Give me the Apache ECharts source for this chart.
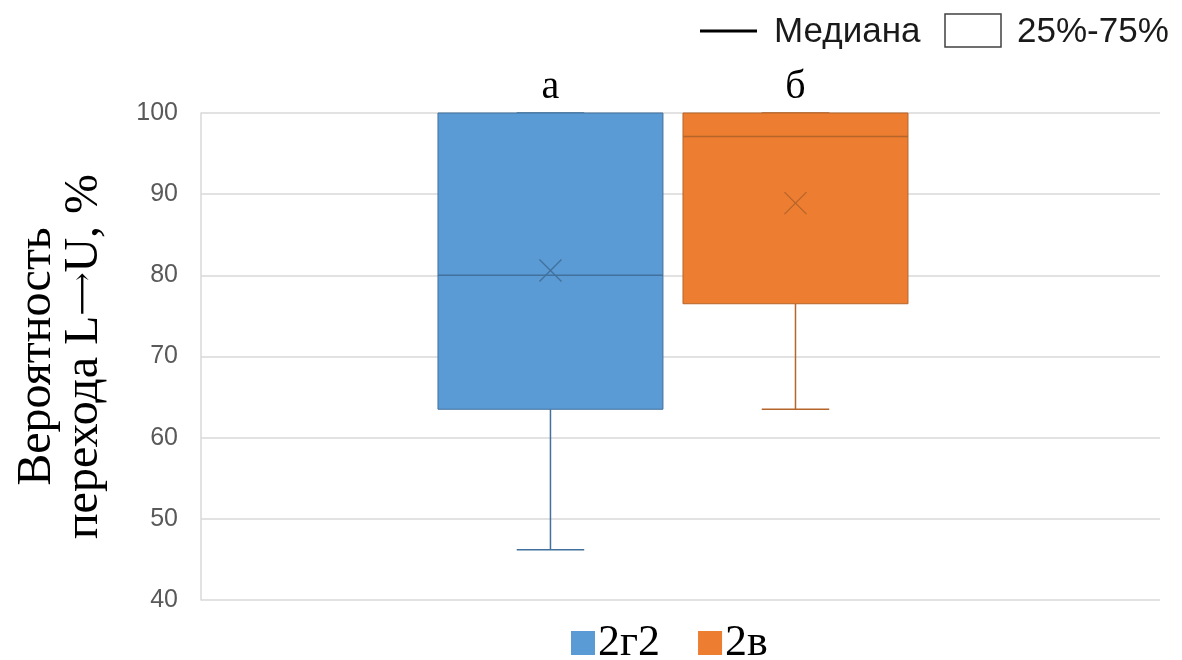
<!DOCTYPE html>
<html>
<head>
<meta charset="utf-8">
<script src="https://cdn.jsdelivr.net/npm/echarts@6/dist/echarts.min.js"></script>
<style>
  html, body { margin: 0; padding: 0; background: #ffffff; }
  #chart { width: 1182px; height: 660px; }
</style>
</head>
<body>
<div id="chart"></div>
<script>
// Box-and-whisker summary for two groups
const categories = [''];
const groupNames = ['2г2', '2в'];
const groupLetters = ['а', 'б'];
const whiskerLow = [46.2, 63.5];
const quartile1 = [63.5, 76.5];
const medians = [80.0, 97.1];
const quartile3 = [100, 100];
const whiskerHigh = [100, 100];
const means = [80.6, 88.9];
const yTicks = [40, 50, 60, 70, 80, 90, 100];

const fills = ['#5B9BD5', '#ED7D31'];
const strokes = ['#41719C', '#B5652A'];
const offsets = [-0.1356, 0.1199];   // box centre, as a share of the band
const boxShare = 0.2346;             // box width, as a share of the band
const serif = '"Liberation Serif", "DejaVu Serif", serif';
const sans = '"Liberation Sans", Arial, sans-serif';

function makeRender(i) {
  return function (params, api) {
    const band = api.size([1, 0])[0];
    const centre = api.coord([0, medians[i]])[0] + offsets[i] * band;
    const half = boxShare * band / 2;
    const capHalf = half * 0.3;
    const y = v => api.coord([0, v])[1];
    const yLo = y(whiskerLow[i]), yQ1 = y(quartile1[i]), yMed = y(medians[i]);
    const yQ3 = y(quartile3[i]), yHi = y(whiskerHigh[i]), yMean = y(means[i]);
    const line = (x1, y1, x2, y2, w) => ({
      type: 'line',
      shape: { x1, y1, x2, y2 },
      style: { stroke: strokes[i], lineWidth: w || 1.5 }
    });
    const m = 11;
    return {
      type: 'group',
      children: [
        line(centre, yQ1, centre, yLo),
        line(centre - capHalf, yLo, centre + capHalf, yLo),
        line(centre, yQ3, centre, yHi),
        line(centre - capHalf, yHi, centre + capHalf, yHi),
        {
          type: 'rect',
          shape: { x: centre - half, y: yQ3, width: 2 * half, height: yQ1 - yQ3 },
          style: { fill: fills[i], stroke: strokes[i], lineWidth: 1 }
        },
        line(centre - half, yMed, centre + half, yMed, 1.5),
        line(centre - m, yMean - m, centre + m, yMean + m, 1.3),
        line(centre - m, yMean + m, centre + m, yMean - m, 1.3),
        {
          type: 'text',
          style: {
            text: groupLetters[i],
            x: centre, y: yHi - 6,
            align: 'center', verticalAlign: 'bottom',
            font: '40px ' + serif, fill: '#000000'
          }
        }
      ]
    };
  };
}

const series = groupNames.map((name, i) => ({
  name: name,
  type: 'custom',
  itemStyle: { color: fills[i] },
  renderItem: makeRender(i),
  encode: { x: 0, y: 1 },
  data: [[0, medians[i]]],
  clip: false
}));

const chart = echarts.init(document.getElementById('chart'));
chart.setOption({
  animation: false,
  backgroundColor: '#ffffff',
  grid: { left: 201, right: 22, top: 113, bottom: 60, containLabel: false, outerBoundsMode: 'none' },
  xAxis: {
    type: 'category',
    data: categories,
    axisLine: { show: false },
    axisTick: { show: false },
    axisLabel: { show: false }
  },
  yAxis: {
    type: 'value',
    min: yTicks[0],
    max: yTicks[yTicks.length - 1],
    interval: 10,
    axisLine: { show: true, lineStyle: { color: '#d9d9d9', width: 1.5 } },
    axisTick: { show: false },
    axisLabel: { color: '#595959', fontSize: 25, fontFamily: sans, margin: 23 },
    splitLine: { lineStyle: { color: '#d9d9d9', width: 1.5 } },
    name: 'Вероятность\nперехода L{arr|⟶}U, %',
    nameLocation: 'middle',
    nameRotate: 90,
    nameGap: 93,
    nameTextStyle: {
      fontFamily: serif, fontSize: 48, lineHeight: 47, color: '#000000',
      rich: { arr: { fontFamily: '"DejaVu Serif", serif', fontSize: 30, lineHeight: 47, color: '#000000' } }
    }
  },
  legend: {
    data: groupNames,
    top: 616,
    left: 566,
    icon: 'rect',
    itemWidth: 24,
    itemHeight: 24,
    itemGap: 38,
    textStyle: { fontFamily: serif, fontSize: 44, color: '#000000', padding: [0, 0, 0, -2] }
  },
  graphic: [
    { type: 'line', shape: { x1: 700, y1: 31, x2: 757, y2: 31 }, style: { stroke: '#000000', lineWidth: 3 } },
    { type: 'text', style: { text: 'Медиана', x: 774, y: 32, verticalAlign: 'middle', font: '35px ' + sans, fill: '#1a1a1a' } },
    { type: 'rect', shape: { x: 945, y: 14, width: 56, height: 33 }, style: { fill: '#ffffff', stroke: '#404040', lineWidth: 1.5 } },
    { type: 'text', style: { text: '25%-75%', x: 1017, y: 32, verticalAlign: 'middle', font: '35px ' + sans, fill: '#1a1a1a' } }
  ],
  series: series
});
</script>
</body>
</html>
